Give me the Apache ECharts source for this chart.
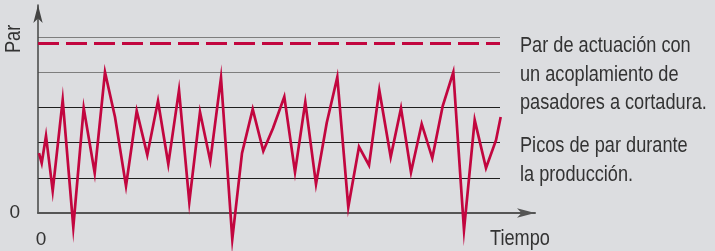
<!DOCTYPE html>
<html>
<head>
<meta charset="utf-8">
<script src="https://cdn.jsdelivr.net/npm/echarts@6/dist/echarts.min.js"></script>
<style>
html, body { margin: 0; padding: 0; background: #dcdde0; }
#main { width: 715px; height: 251px; }
</style>
</head>
<body>
<div id="main"></div>
<script>
// tiempo (unidades arbitrarias) y par
var tiempo = [1, 3.7, 8, 14.7, 24.7, 35.3, 45.7, 56.7, 67, 77, 88, 98.7, 109.3, 120, 130.3, 141, 151.3, 162, 172.3, 183,
	194.3, 204, 214.7, 225.3, 235, 246.3, 257, 267.3, 278, 288.7, 299.3, 310.3, 321, 331, 341.3, 352.7, 363, 373, 383.7,
	394.3, 404.7, 415.3, 426, 436.7, 448, 458, 462.7];
var par = [1.70, 1.42, 2.19, 0.63, 3.21, -0.40, 2.98, 1.14, 4.0, 2.73, 0.77, 2.90, 1.65, 3.18, 1.39, 3.49, 0.31, 2.87, 1.48, 3.84,
	-0.74, 1.70, 2.95, 1.76, 2.41, 3.30, 1.16, 3.15, 0.82, 2.56, 3.86, 0.17, 1.88, 1.36, 3.49, 1.59, 2.98, 1.16, 2.53,
	1.56, 3.04, 4.0, -0.48, 2.64, 1.28, 2.07, 2.73];
var parActuacion = 4.83;   // linea discontinua
var yMax = 5.91;
var xMax = 462;
var textoActuacion = ['Par de actuación con', 'un acoplamiento de', 'pasadores a cortadura.'];
var textoPicos = ['Picos de par durante', 'la producción.'];

// no hay fuente estrecha instalada: se estrecha la Liberation Sans con scaleX
var fuente = '"Liberation Sans", Arial, sans-serif';
var estrecho = 0.845;
var rojo = '#c2063f';

var chart = echarts.init(document.getElementById('main'));

function texto (txt, x, y, size, extra) {
	var el = {
		type: 'text', x: x, y: y, scaleX: estrecho,
		style: { text: txt, font: size + 'px ' + fuente, fill: '#333', lineHeight: 28.5, textVerticalAlign: 'top' }
	};
	return Object.assign(el, extra || {});
}

var option = {
	backgroundColor: '#dcdde0',
	animation: false,
	grid: [
		{ left: 38, right: 215, top: 5, bottom: 38 },
		{ left: 38, right: 180, top: 5, bottom: 38 }
	],
	xAxis: [
		{
			type: 'value', gridIndex: 0, min: 0, max: xMax, interval: xMax,
			axisLine: { show: false },
			axisTick: { show: false },
			splitLine: { show: false },
			axisLabel: {
				margin: 17, fontSize: 19, color: '#333', fontFamily: fuente, padding: [0, 0, 0, 6],
				formatter: function (v) { return v === 0 ? '0' : ''; }
			}
		},
		{
			type: 'value', gridIndex: 1, min: 0, max: 1,
			axisLine: {
				show: true, symbol: ['none', 'arrow'], symbolSize: [7, 18],
				lineStyle: { color: '#555', width: 2 }
			},
			axisTick: { show: false },
			axisLabel: { show: false },
			splitLine: { show: false }
		}
	],
	yAxis: [
		{
			type: 'value', gridIndex: 0, min: 0, max: yMax, interval: 1,
			axisLine: {
				show: true, symbol: ['none', 'arrow'], symbolSize: [7, 18],
				lineStyle: { color: '#444', width: 1.5 }
			},
			axisTick: { show: false },
			axisLabel: {
				margin: 18, fontSize: 19, color: '#333', fontFamily: fuente,
				formatter: function (v) { return v === 0 ? '0' : ''; }
			},
			splitLine: {
				show: true, showMinLine: false, showMaxLine: false,
				lineStyle: { color: ['#1e1e1e', '#1e1e1e', '#1e1e1e', '#7e7e7e', '#7e7e7e'], width: 1.2 }
			}
		},
		{
			type: 'value', gridIndex: 1, min: 0, max: yMax, show: false
		}
	],
	series: [
		{
			type: 'line',
			xAxisIndex: 0, yAxisIndex: 0,
			data: tiempo.map(function (t, i) { return [t, par[i]]; }),
			showSymbol: false,
			clip: false,
			lineStyle: { color: rojo, width: 2.7, join: 'miter', miterLimit: 20 },
			markLine: {
				silent: true,
				symbol: 'none',
				label: { show: false },
				lineStyle: { color: rojo, width: 2.8, type: [21, 7] },
				data: [{ yAxis: parActuacion }]
			}
		}
	],
	graphic: [
		texto('Par', 3, 53, 21.5, { rotation: Math.PI / 2, style: { text: 'Par', font: '21.5px ' + fuente, fill: '#333', textVerticalAlign: 'top' } }),
		texto('Tiempo', 490, 225, 21.5),
		texto(textoActuacion.join('\n'), 520, 32, 21.5),
		texto(textoPicos.join('\n'), 520, 132, 21.5)
	]
};

chart.setOption(option);
</script>
</body>
</html>
